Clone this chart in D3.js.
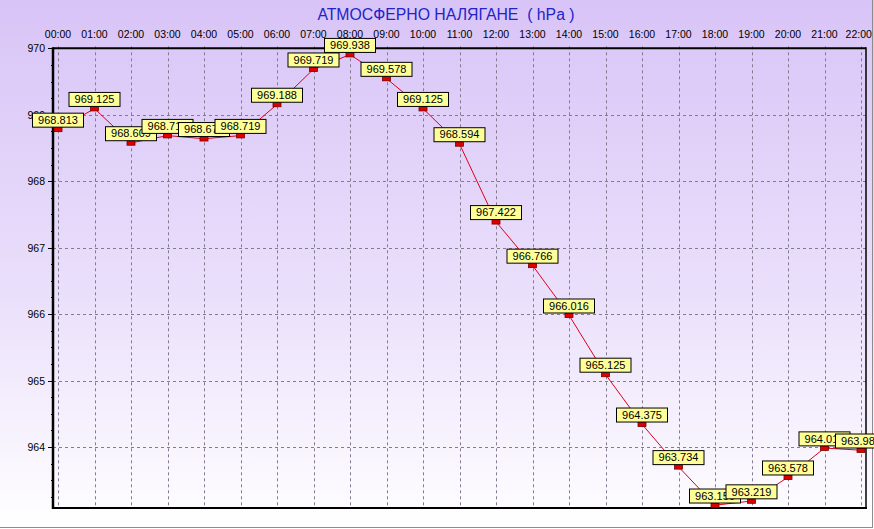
<!DOCTYPE html>
<html><head><meta charset="utf-8">
<script src="https://cdn.jsdelivr.net/npm/d3@7"></script>
<style>html,body{margin:0;padding:0;background:#fff;overflow:hidden}svg{display:block}</style>
</head><body>
<script>
const title = "АТМОСФЕРНО НАЛЯГАНЕ  ( hPa )";
const hours = ["00:00","01:00","02:00","03:00","04:00","05:00","06:00","07:00","08:00","09:00","10:00","11:00","12:00","13:00","14:00","15:00","16:00","17:00","18:00","19:00","20:00","21:00","22:00"];
const pressure = [968.813,969.125,968.609,968.719,968.672,968.719,969.188,969.719,969.938,969.578,969.125,968.594,967.422,966.766,966.016,965.125,964.375,963.734,963.156,963.219,963.578,964.016,963.984];
const yTicks = [964,965,966,967,968,969,970];

const W = 874, H = 529;
const plot = {left: 53, right: 866, top: 48.3, bottom: 508};
const svg = d3.select("body").append("svg").attr("width", W).attr("height", H);
const FONT = "'Liberation Sans', Arial, sans-serif";

const defs = svg.append("defs");
const grad = defs.append("linearGradient").attr("id","bg").attr("x1",0).attr("y1",0).attr("x2",0).attr("y2",1);
grad.append("stop").attr("offset","0%").attr("stop-color","#d8c4f7");
grad.append("stop").attr("offset","55%").attr("stop-color","#eadffb");
grad.append("stop").attr("offset","100%").attr("stop-color","#ffffff");
svg.append("rect").attr("width",W).attr("height",H).attr("fill","url(#bg)");

// window border
svg.append("line").attr("x1",0).attr("x2",872.5).attr("y1",527.5).attr("y2",527.5).attr("stroke","#8c8c8c");
svg.append("line").attr("x1",872.5).attr("x2",872.5).attr("y1",0).attr("y2",528).attr("stroke","#8c8c8c");

const x = d3.scalePoint(hours, [58, 861]);
const y = d3.scaleLinear([963.081, 970], [plot.bottom, plot.top]);

// title
svg.append("text").attr("x", 446).attr("y", 20).attr("text-anchor","middle")
  .attr("font-family", FONT).attr("font-size", 15.8).attr("fill","#2323c8")
  .style("white-space","pre").attr("xml:space","preserve").text(title);

// grid
const grid = svg.append("g").attr("stroke","#857b90").attr("stroke-dasharray","3,3").attr("stroke-width",1);
grid.selectAll("line.v").data(hours).join("line")
  .attr("x1", d => Math.round(x(d))+0.5).attr("x2", d => Math.round(x(d))+0.5)
  .attr("y1", plot.top-2).attr("y2", plot.bottom);
grid.selectAll("line.h").data(yTicks).join("line")
  .attr("x1", plot.left).attr("x2", plot.right)
  .attr("y1", d => Math.round(y(d))+0.5).attr("y2", d => Math.round(y(d))+0.5);

// x labels (top)
const xl = svg.append("g").attr("font-family", FONT).attr("font-size", 10.5).attr("fill","#000");
xl.selectAll("text").data(hours).join("text")
  .attr("y", 38).attr("text-anchor","middle").attr("x", d => x(d)).text(d => d)
  .each(function(){
    const b = this.getBBox();
    if (b.x + b.width > 872) d3.select(this).attr("x", +d3.select(this).attr("x") - (b.x + b.width - 872));
  });

// y axis ticks & labels
const yl = svg.append("g").attr("font-family", FONT).attr("font-size", 10.5).attr("fill","#000");
yl.selectAll("text").data(yTicks).join("text")
  .attr("x", 45).attr("y", d => y(d)+4).attr("text-anchor","end").text(d => d);
const minor = d3.range(963.25, 970.001, 0.25);
svg.append("g").attr("stroke","#000").selectAll("line").data(minor).join("line")
  .attr("x1", d => Number.isInteger(d) ? 48 : 51).attr("x2", plot.left)
  .attr("y1", d => Math.round(y(d))+0.5).attr("y2", d => Math.round(y(d))+0.5);

// frame
svg.append("line").attr("x1",plot.left).attr("x2",plot.right).attr("y1",plot.top).attr("y2",plot.top).attr("stroke","#000").attr("stroke-width",2);
svg.append("line").attr("x1",plot.left).attr("x2",plot.right+1).attr("y1",plot.bottom).attr("y2",plot.bottom).attr("stroke","#000").attr("stroke-width",2);
svg.append("line").attr("x1",plot.left).attr("x2",plot.left).attr("y1",plot.top-1).attr("y2",plot.bottom+1).attr("stroke","#000").attr("stroke-width",2.5);
svg.append("line").attr("x1",plot.right).attr("x2",plot.right).attr("y1",plot.top-1).attr("y2",plot.bottom+1).attr("stroke","#000").attr("stroke-width",1.5);

// series
const data = hours.map((h,i) => ({h, v: pressure[i]}));
const mOff = 2.2;
svg.append("path").datum(data)
  .attr("d", d3.line().x(d => x(d.h)).y(d => y(d.v)+mOff))
  .attr("fill","none").attr("stroke","#e0001c").attr("stroke-width",1);

const fmt = d3.format(".3f");
const pts = svg.selectAll("g.pt").data(data).join("g");
pts.append("rect").attr("x", d => x(d.h)-4).attr("y", d => y(d.v)).attr("width",8).attr("height",4.5)
  .attr("fill","#dd0000").attr("stroke","#7a0000").attr("stroke-width",0.8);
pts.append("rect").attr("x", d => x(d.h)-25.5).attr("y", d => y(d.v)-14).attr("width",51).attr("height",14)
  .attr("fill","#ffff99").attr("stroke","#000").attr("stroke-width",1);
pts.append("text").attr("x", d => x(d.h)).attr("y", d => y(d.v)-3.3).attr("text-anchor","middle")
  .attr("font-family", FONT).attr("font-size", 11).attr("fill","#000").text(d => fmt(d.v));
</script>
</body></html>
